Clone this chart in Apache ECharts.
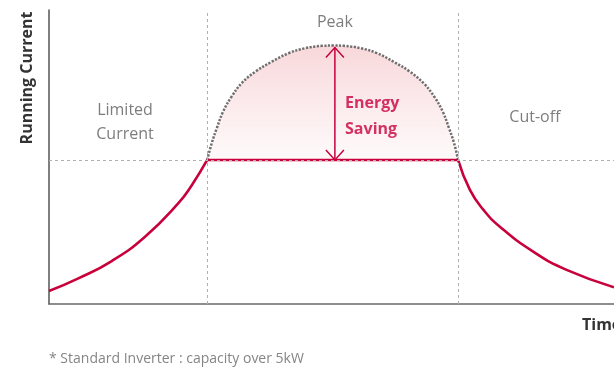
<!DOCTYPE html>
<html>
<head>
<meta charset="utf-8">
<script src="https://cdn.jsdelivr.net/npm/echarts@6/dist/echarts.min.js"></script>
<style>
  html, body { margin: 0; padding: 0; background: #ffffff; }
  #chart { width: 614px; height: 371px; }
</style>
</head>
<body>
<div id="chart"></div>
<script>
// Running current of a standard inverter over time (relative units, 0–100 on both axes)
const limitLevel = 49;            // current held during the limited phase
const phaseBounds = [28, 72.4];   // time where the limited phase starts / ends
const peakTime = 50.6;
const peakValue = 87.9;

// start-up ramp up to the current limit
const rampUp = [
  [0, 4.4], [5.2, 8.7], [11.1, 14.6], [17, 22.9], [22.9, 34.3], [25.3, 40.5], [28, 49]
];
// current held at the limit
const limitedRun = [[28, 49], [72.4, 49]];
// decay after cut-off
const decay = [
  [72.4, 49], [74.5, 38.8], [76.9, 32], [79.8, 26.3], [85.7, 17.8], [91.6, 11.6], [100, 5.7]
];
// unrestricted peak that the limit cuts off
const peakCurve = [
  [28, 49], [28.8, 54.7], [29.7, 59.8], [30.8, 65.4], [32.3, 70.5], [34.1, 75.1],
  [36.5, 79.0], [39.4, 82.4], [42.4, 85.3], [45.3, 87.0], [48.3, 87.8], [50.4, 87.9],
  [52.2, 87.8], [55.2, 87.0], [58.1, 85.3], [61.0, 82.4], [63.9, 79.0], [66.3, 75.1],
  [68.2, 70.5], [69.7, 65.4], [70.8, 59.8], [71.7, 54.7], [72.4, 49]
];

const zoneLabels = ['Limited\nCurrent', 'Peak', 'Cut-off'];
const savingLabel = 'Energy\nSaving';
const yTitle = 'Running Current';
const xTitle = 'Time';
const footnote = '* Standard Inverter : capacity over 5kW';

const RED = '#c8003c';
const FONT = '"Open Sans", "Noto Sans", sans-serif';

const chart = echarts.init(document.getElementById('chart'), null, { renderer: 'canvas' });

const redLine = { color: RED, width: 2.6 };

chart.setOption({
  animation: false,
  grid: { left: 49, right: 0, top: 10, bottom: 67, containLabel: false },
  xAxis: {
    type: 'value', min: 0, max: 100,
    axisLine: { show: true, lineStyle: { color: '#6a6a6a', width: 1.5 } },
    axisTick: { show: false }, axisLabel: { show: false }, splitLine: { show: false }
  },
  yAxis: {
    type: 'value', min: 0, max: 100,
    axisLine: { show: true, lineStyle: { color: '#555', width: 1.5 } },
    axisTick: { show: false }, axisLabel: { show: false }, splitLine: { show: false }
  },
  graphic: [
    {
      type: 'text', x: 27, y: 78, rotation: Math.PI / 2,
      style: {
        text: yTitle, font: 'bold 16px ' + FONT, fill: '#333',
        align: 'center', verticalAlign: 'middle'
      }
    },
    {
      type: 'text', x: 582, y: 325,
      style: {
        text: xTitle, font: 'bold 16px ' + FONT, fill: '#333',
        align: 'left', verticalAlign: 'middle'
      }
    },
    {
      type: 'text', x: 49, y: 359,
      style: {
        text: footnote, font: '14px ' + FONT, fill: '#858585',
        align: 'left', verticalAlign: 'middle'
      }
    }
  ],
  series: [
    {
      // unrestricted peak, shaded down to the limit level
      type: 'line', data: peakCurve, smooth: 0.4, symbol: 'none', z: 1,
      lineStyle: { color: '#6e6e6e', width: 2.5, type: [2.2, 1.5] },
      areaStyle: {
        origin: limitLevel,
        color: new echarts.graphic.LinearGradient(0, 0, 0, 1, [
          { offset: 0, color: 'rgba(238,160,166,0.6)' },
          { offset: 1, color: 'rgba(252,236,238,0.45)' }
        ])
      }
    },
    {
      // phase guides
      type: 'line', data: [], symbol: 'none', z: 0,
      markLine: {
        silent: true, symbol: 'none', label: { show: false },
        lineStyle: { color: '#b0b0b0', width: 1, type: [3, 3] },
        data: [
          { xAxis: phaseBounds[0] }, { xAxis: phaseBounds[1] }, { yAxis: limitLevel }
        ]
      }
    },
    { type: 'line', data: rampUp, smooth: 0.5, symbol: 'none', z: 3, lineStyle: redLine },
    { type: 'line', data: limitedRun, symbol: 'none', z: 3, lineStyle: redLine },
    { type: 'line', data: decay, smooth: 0.5, symbol: 'none', z: 3, lineStyle: redLine },
    {
      // double-headed arrow spanning the saved current
      type: 'custom', z: 4, silent: true,
      data: [[peakTime, peakValue, limitLevel]],
      renderItem: function (params, api) {
        const top = api.coord([api.value(0), api.value(1)]);
        const bot = api.coord([api.value(0), api.value(2)]);
        top[1] += 2;
        const style = { stroke: RED, lineWidth: 1.5, fill: null };
        const w = 9, h = 10;
        return {
          type: 'group',
          children: [
            { type: 'line', shape: { x1: top[0], y1: top[1], x2: bot[0], y2: bot[1] }, style: style },
            { type: 'polyline', shape: { points: [[top[0] - w, top[1] + h], top, [top[0] + w, top[1] + h]] }, style: style },
            { type: 'polyline', shape: { points: [[bot[0] - w, bot[1] - h], bot, [bot[0] + w, bot[1] - h]] }, style: style }
          ]
        };
      }
    },
    {
      // zone captions
      type: 'scatter', symbolSize: 0, silent: true, z: 5,
      data: [
        { name: zoneLabels[0], value: [13.45, 61.7] },
        { name: zoneLabels[1], value: [peakTime, 95.9] },
        { name: zoneLabels[2], value: [86.0, 63.3] }
      ],
      label: {
        show: true, position: 'inside', formatter: '{b}',
        fontFamily: FONT, fontSize: 16, color: '#5c5c5c', lineHeight: 24, align: 'center'
      }
    },
    {
      type: 'scatter', symbolSize: 0, silent: true, z: 5,
      data: [{ name: savingLabel, value: [52.4, 63.9] }],
      label: {
        show: true, position: 'right', distance: 0, formatter: '{b}',
        fontFamily: FONT, fontSize: 16, fontWeight: 'bold', color: RED, lineHeight: 26
      }
    }
  ]
});
</script>
</body>
</html>
